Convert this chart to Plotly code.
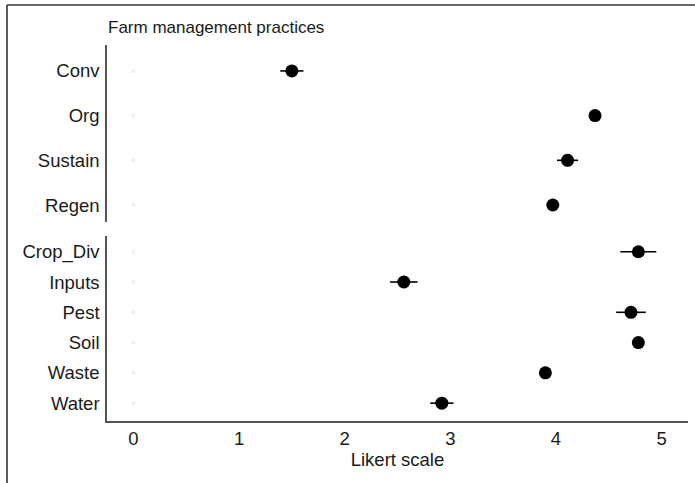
import plotly.graph_objects as go

top_cats = ["Conv", "Org", "Sustain", "Regen"]
top_vals = [1.50, 4.37, 4.11, 3.97]
top_err = [0.11, 0.03, 0.10, 0.03]

bot_cats = ["Crop_Div", "Inputs", "Pest", "Soil", "Waste", "Water"]
bot_vals = [4.78, 2.56, 4.71, 4.78, 3.90, 2.92]
bot_err = [0.17, 0.13, 0.14, 0.03, 0.05, 0.11]

x_ticks = [0, 1, 2, 3, 4, 5]

W, H = 695, 483
L, R, T, B = 107, 7, 45, 62
pw = W - L - R
ph = H - T - B

FONT = "Liberation Sans, Arial, Helvetica, sans-serif"
FS = 18.5

fig = go.Figure()

for cats, vals, errs, ya in [(top_cats, top_vals, top_err, "y"), (bot_cats, bot_vals, bot_err, "y2")]:
    fig.add_trace(go.Scatter(
        x=[0] * len(cats), y=cats, mode="markers",
        marker=dict(size=4, color="#efefef"), yaxis=ya, xaxis="x" if ya == "y" else "x2",
        showlegend=False, hoverinfo="skip"))
    fig.add_trace(go.Scatter(
        x=vals, y=cats, mode="markers",
        marker=dict(size=13, color="black"),
        error_x=dict(type="data", array=errs, color="black", thickness=1.6, width=0),
        yaxis=ya, xaxis="x" if ya == "y" else "x2", showlegend=False))

def ydom(p_top, p_bot):
    return [(H - B - p_bot) / ph, (H - B - p_top) / ph]

fig.update_layout(
    width=W, height=H,
    margin=dict(l=L, r=R, t=T, b=B),
    paper_bgcolor="white", plot_bgcolor="white",
    font=dict(family=FONT, size=FS, color="#1a1a1a"),
    xaxis=dict(domain=[0, 1], range=[-0.25, 5.25], anchor="y", showticklabels=False,
               showline=False, showgrid=False, zeroline=False, tickvals=x_ticks),
    xaxis2=dict(domain=[0, 1], range=[-0.25, 5.25], anchor="y2", tickvals=x_ticks,
                showline=True, linecolor="#555", linewidth=1.5, showgrid=False, zeroline=False,
                ticks="", ticklen=0, tickfont=dict(size=FS),
                title=dict(text="Likert scale", font=dict(size=FS), standoff=5)),
    yaxis=dict(domain=ydom(45, 222), type="category", categoryarray=top_cats,
               range=[3.38, -0.58], showline=True, linecolor="#555", linewidth=1.5,
               showgrid=False, zeroline=False, ticks="", ticklen=0, anchor="x",
               ticklabelstandoff=2, tickfont=dict(size=FS)),
    yaxis2=dict(domain=ydom(236, 421), type="category", categoryarray=bot_cats,
                range=[5.59, -0.52], showline=True, linecolor="#555", linewidth=1.5,
                showgrid=False, zeroline=False, ticks="", ticklen=0, anchor="x2",
                ticklabelstandoff=2, tickfont=dict(size=FS)),
    annotations=[dict(text="Farm management practices", xref="paper", yref="paper",
                      x=(106 - L) / pw, y=(H - B - 27) / ph, xanchor="left", yanchor="middle",
                      showarrow=False, font=dict(size=17, color="#1a1a1a"))],
    shapes=[
        dict(type="line", xref="paper", yref="paper",
             x0=(7 - L) / pw, x1=(W - L + 2) / pw, y0=(H - B - 5) / ph, y1=(H - B - 5) / ph,
             line=dict(color="#333", width=1.6)),
        dict(type="line", xref="paper", yref="paper",
             x0=(7 - L) / pw, x1=(7 - L) / pw, y0=(H - B - 5) / ph, y1=(H - B - H - 2) / ph,
             line=dict(color="#333", width=1.6)),
    ],
)

fig.write_html("out.html")
